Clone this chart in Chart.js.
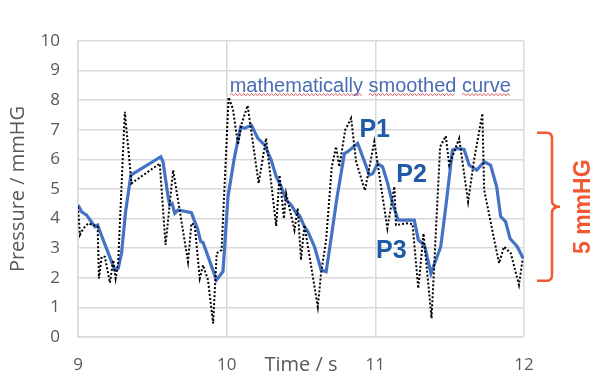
<!DOCTYPE html>
<html>
<head>
<meta charset="utf-8">
<script src="https://cdn.jsdelivr.net/npm/chart.js@4.4.1/dist/chart.umd.min.js"></script>
<style>
    html, body { margin: 0; padding: 0; background: #fff; }
    #wrap { width: 599px; height: 387px; position: relative; }
</style>
</head>
<body>
<div id="wrap"><canvas id="pressureChart" width="599" height="387"></canvas></div>
<script>
// raw pressure trace (dotted)
var rawTime = [9.000, 9.013, 9.036, 9.069, 9.132, 9.141, 9.159, 9.181, 9.215, 9.237, 9.253, 9.270,
    9.315, 9.360, 9.550, 9.589, 9.640, 9.651, 9.740, 9.763, 9.785, 9.819, 9.841, 9.874, 9.909,
    9.933, 9.966, 10.013, 10.042, 10.076, 10.100, 10.141, 10.215, 10.265, 10.333, 10.356, 10.385,
    10.400, 10.456, 10.478, 10.500, 10.523, 10.613, 10.635, 10.669, 10.707, 10.736, 10.758, 10.797,
    10.837, 10.871, 10.930, 10.993, 11.081, 11.128, 11.139, 11.206, 11.250, 11.289, 11.324, 11.378,
    11.436, 11.474, 11.497, 11.564, 11.624, 11.664, 11.720, 11.732, 11.832, 11.866, 11.911, 11.966, 11.990];
var rawPressure = [4.40, 3.45, 3.67, 3.84, 3.73, 1.98, 2.71, 2.71, 1.83, 2.60, 1.98, 2.49,
    7.61, 5.19, 5.86, 3.11, 5.64, 5.30, 2.54, 3.84, 3.78, 1.98, 2.43, 1.93, 0.46,
    2.83, 2.94, 8.10, 7.70, 6.50, 7.20, 7.82, 5.19, 6.71, 3.75, 5.47, 4.00,
    4.85, 3.61, 4.35, 2.60, 3.78, 1.02, 2.15, 3.28, 5.75, 6.43, 5.75, 6.99,
    7.39, 5.92, 4.95, 6.60, 3.67, 5.08, 3.78, 3.84, 3.82, 1.64, 3.50, 0.63,
    6.43, 6.79, 5.81, 6.71, 4.57, 5.98, 7.55, 4.97, 2.49, 3.05, 2.83, 1.76, 2.60];

// mathematically smoothed curve (solid blue)
var smoothTime = [9.000, 9.025, 9.058, 9.096, 9.114, 9.132, 9.148, 9.248, 9.270, 9.293, 9.320, 9.356,
    9.557, 9.572, 9.606, 9.617, 9.633, 9.651, 9.673, 9.763, 9.781, 9.803, 9.826, 9.841, 9.931,
    9.975, 10.009, 10.049, 10.094, 10.121, 10.166, 10.210, 10.255, 10.300, 10.333, 10.367, 10.400,
    10.434, 10.468, 10.490, 10.523, 10.546, 10.591, 10.636, 10.669, 10.691, 10.743, 10.792, 10.814,
    10.881, 10.915, 10.960, 10.982, 11.015, 11.049, 11.083, 11.116, 11.154, 11.262, 11.289, 11.317,
    11.333, 11.374, 11.440, 11.474, 11.519, 11.552, 11.597, 11.631, 11.682, 11.732, 11.775, 11.816,
    11.843, 11.876, 11.906, 11.955, 11.995];
var smoothPressure = [4.46, 4.23, 4.12, 3.85, 3.73, 3.78, 3.56, 2.26, 2.32, 2.83, 4.23, 5.47,
    6.09, 5.92, 4.74, 4.46, 4.51, 4.18, 4.29, 4.20, 3.95, 3.67, 3.22, 3.19, 1.93,
    2.21, 4.74, 5.98, 7.10, 7.05, 7.16, 6.71, 6.49, 5.98, 5.42, 5.08, 4.63,
    4.46, 4.18, 4.10, 3.73, 3.56, 3.05, 2.26, 2.21, 2.94, 4.74, 6.20, 6.26,
    6.54, 6.09, 5.47, 5.52, 5.86, 5.75, 5.19, 4.51, 3.95, 3.95, 3.28, 3.16,
    3.05, 2.15, 3.05, 4.40, 6.32, 6.37, 6.34, 5.81, 5.64, 5.92, 5.81, 5.08,
    4.07, 3.90, 3.33, 3.05, 2.65];

var xTicks = [9, 10, 11, 12];
var xTitle = 'Time / s';
var yTitle = 'Pressure / mmHG';

// annotations
var noteText = 'mathematically smoothed curve';
var noteTime = 10.02, noteLevel = 8.29;
var peakLabels = ['P1', 'P2', 'P3'];
var peakTime = [10.893, 11.141, 11.005];
var peakLevel = [6.77, 5.25, 2.66];
var bracketRange = [1.9, 6.9];
var bracketText = '5 mmHG';

var AXIS_GREY = '#595959';
var GRID_GREY = '#d9d9d9';
var BLUE = '#4472C4';
var DARK_BLUE = '#1F5AA8';
var ORANGE = '#F05A32';

function toPoints(xs, ys) {
    return xs.map(function(x, i) { return { x: x, y: ys[i] }; });
}

function wavyLine(ctx, x0, x1, y) {
    ctx.beginPath();
    ctx.moveTo(x0, y);
    var up = true;
    for (var x = x0 + 2; x <= x1; x += 2) {
        ctx.lineTo(x, up ? y - 1.2 : y + 1.2);
        up = !up;
    }
    ctx.stroke();
}

var annotationPlugin = {
    id: 'annotations',
    afterDatasetsDraw: function(chart) {
        var ctx = chart.ctx;
        var xs = chart.scales.x, ys = chart.scales.y;
        var area = chart.chartArea;
        ctx.save();

        // note with spell-check underline
        ctx.font = '20px "Liberation Sans", Arial, sans-serif';
        ctx.fillStyle = '#4A6DB5';
        ctx.textBaseline = 'alphabetic';
        ctx.textAlign = 'left';
        var nx = xs.getPixelForValue(noteTime), ny = ys.getPixelForValue(noteLevel);
        ctx.fillText(noteText, nx, ny);
        ctx.strokeStyle = '#E06666';
        ctx.lineWidth = 1;
        var cursor = nx;
        noteText.split(' ').forEach(function(word) {
            var w = ctx.measureText(word).width;
            wavyLine(ctx, cursor, cursor + w, ny + 3);
            cursor += w + ctx.measureText(' ').width;
        });

        // peak labels
        ctx.font = 'bold 25px "Liberation Sans", Arial, sans-serif';
        ctx.fillStyle = DARK_BLUE;
        peakLabels.forEach(function(lbl, i) {
            ctx.fillText(lbl, xs.getPixelForValue(peakTime[i]), ys.getPixelForValue(peakLevel[i]));
        });

        // x title on tick line
        ctx.font = '20px "Open Sans", sans-serif';
        ctx.fillStyle = AXIS_GREY;
        ctx.textAlign = 'center';
        ctx.textBaseline = 'middle';
        ctx.fillText(xTitle, xs.getPixelForValue(10.5), area.bottom + 28);

        // bracket on the right
        var top = ys.getPixelForValue(bracketRange[1]);
        var bot = ys.getPixelForValue(bracketRange[0]);
        var mid = (top + bot) / 2;
        var bx = area.right + 28;
        ctx.strokeStyle = ORANGE;
        ctx.lineWidth = 2.5;
        ctx.beginPath();
        ctx.moveTo(area.right + 13, top);
        ctx.lineTo(bx - 5, top);
        ctx.quadraticCurveTo(bx, top, bx, top + 6);
        ctx.lineTo(bx, mid - 6);
        ctx.quadraticCurveTo(bx, mid, bx + 8, mid);
        ctx.quadraticCurveTo(bx, mid, bx, mid + 6);
        ctx.lineTo(bx, bot - 6);
        ctx.quadraticCurveTo(bx, bot, bx - 5, bot);
        ctx.lineTo(area.right + 13, bot);
        ctx.stroke();

        ctx.translate(area.right + 60, mid);
        ctx.rotate(-Math.PI / 2);
        ctx.font = 'bold 23px "Liberation Sans", Arial, sans-serif';
        ctx.fillStyle = ORANGE;
        ctx.textAlign = 'center';
        ctx.textBaseline = 'middle';
        ctx.fillText(bracketText, 0, 0);

        ctx.restore();
    }
};

new Chart(document.getElementById('pressureChart'), {
    type: 'line',
    data: {
        datasets: [{
            label: 'raw',
            data: toPoints(rawTime, rawPressure),
            borderColor: '#000',
            borderWidth: 2,
            borderDash: [2, 2],
            pointRadius: 0,
            tension: 0,
            fill: false
        }, {
            label: 'smoothed',
            data: toPoints(smoothTime, smoothPressure),
            borderColor: BLUE,
            borderWidth: 3.2,
            pointRadius: 0,
            tension: 0,
            fill: false
        }]
    },
    options: {
        responsive: false,
        animation: false,
        layout: { padding: { left: 0, top: 41, right: 75, bottom: 0 } },
        plugins: { legend: { display: false }, tooltip: { enabled: false } },
        scales: {
            x: {
                type: 'linear',
                min: 9, max: 12,
                afterBuildTicks: function(axis) {
                    axis.ticks = xTicks.map(function(v) { return { value: v }; });
                },
                afterFit: function(axis) { axis.height = 50; },
                grid: { color: GRID_GREY, lineWidth: 1.5, drawTicks: false },
                border: { color: GRID_GREY, width: 1.5 },
                ticks: { color: AXIS_GREY, padding: 18, font: { family: '"Open Sans", sans-serif', size: 17 } }
            },
            y: {
                min: 0, max: 10,
                afterFit: function(axis) { axis.width = 78; },
                grid: { color: GRID_GREY, lineWidth: 1.5, drawTicks: false },
                border: { color: GRID_GREY, width: 1.5 },
                ticks: { stepSize: 1, color: AXIS_GREY, padding: 18, font: { family: '"Open Sans", sans-serif', size: 17 } },
                title: {
                    display: true, text: yTitle, color: AXIS_GREY,
                    padding: { top: 6, bottom: 0 },
                    font: { family: '"Open Sans", sans-serif', size: 20 }
                }
            }
        }
    },
    plugins: [annotationPlugin]
});
</script>
</body>
</html>
